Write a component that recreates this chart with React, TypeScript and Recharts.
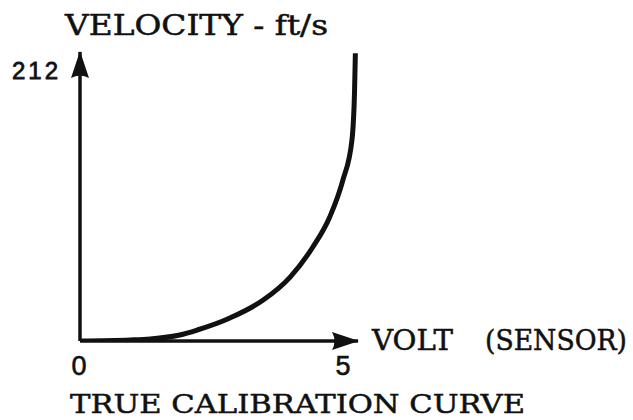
import React from "react";
import { LineChart, Line, XAxis, YAxis } from "recharts";

const volts = [0, 0.95, 1.33, 1.89, 2.22, 2.84, 3.47, 3.98, 4.41, 4.73, 4.98, 5.15, 5.2, 5.215];
const velocity = [0, 0.8, 1.6, 4.7, 8.6, 18, 32, 50, 73.5, 97, 126, 157, 196, 225];
const xTicks = [0, 5];
const yTicks = [212];
const titleText = "VELOCITY - ft/s";
const xLabelA = "VOLT";
const xLabelB = "(SENSOR)";
const captionText = "TRUE CALIBRATION CURVE";

const data = volts.map((v, i) => ({ v, vel: velocity[i] }));

const serif = "'DejaVu Serif', serif";
const sans = "'Liberation Sans', Arial, sans-serif";

const XTick = (props: any) => {
  const { x, payload } = props;
  return (
    <text x={x - 1} y={375} textAnchor="middle" fontFamily={sans} fontSize={27} fill="#111" stroke="#111" strokeWidth={0.6}>
      {payload.value}
    </text>
  );
};

const YTick = (props: any) => {
  const { y, payload } = props;
  return (
    <text x={58} y={y + 9} textAnchor="end" fontFamily={sans} fontSize={24} fill="#111" stroke="#111" strokeWidth={0.8} textLength={46} lengthAdjust="spacing">
      {payload.value}
    </text>
  );
};

export default function App() {
  return (
    <div style={{ position: "absolute", left: 0, top: 0, width: 633, height: 420, background: "#fff" }}>
      <svg width={0} height={0} style={{ position: "absolute" }}>
        <defs>
          <marker id="arrowHead" markerUnits="userSpaceOnUse" markerWidth={30} markerHeight={20} refX={26} refY={9} orient="auto-start-reverse">
            <path d="M0,0 L27,9 L0,18 Q5,9 0,0 Z" fill="#111" />
          </marker>
        </defs>
      </svg>
      <LineChart width={633} height={420} data={data} margin={{ top: 52, right: 275, bottom: 39, left: 20 }}>
        <XAxis
          type="number"
          dataKey="v"
          domain={[0, 5.265]}
          ticks={xTicks}
          height={40}
          tickLine={false}
          tick={<XTick />}
          axisLine={{ stroke: "#111", strokeWidth: 3.5, markerEnd: "url(#arrowHead)" }}
          allowDataOverflow
        />
        <YAxis
          type="number"
          domain={[0, 226]}
          ticks={yTicks}
          width={60}
          tickLine={false}
          tick={<YTick />}
          axisLine={{ stroke: "#111", strokeWidth: 3.5, markerStart: "url(#arrowHead)" }}
          allowDataOverflow
        />
        <Line type="monotone" dataKey="vel" stroke="#111" strokeWidth={5} dot={false} isAnimationActive={false} />
      </LineChart>
      <svg width={633} height={420} style={{ position: "absolute", left: 0, top: 0, pointerEvents: "none" }}>
        <text x={65} y={35} fontFamily={serif} fontSize={27} fill="#111" stroke="#111" strokeWidth={0.5} textLength={263} lengthAdjust="spacingAndGlyphs">
          {titleText}
        </text>
        <text x={372} y={350} fontFamily={serif} fontSize={27} fill="#111" stroke="#111" strokeWidth={0.5} textLength={81} lengthAdjust="spacingAndGlyphs">
          {xLabelA}
        </text>
        <text x={485} y={350} fontFamily={serif} fontSize={27} fill="#111" stroke="#111" strokeWidth={0.5} textLength={142} lengthAdjust="spacingAndGlyphs">
          {xLabelB}
        </text>
        <text x={70} y={413} fontFamily={serif} fontSize={26} fill="#111" stroke="#111" strokeWidth={0.5} textLength={455} lengthAdjust="spacingAndGlyphs">
          {captionText}
        </text>
      </svg>
    </div>
  );
}
